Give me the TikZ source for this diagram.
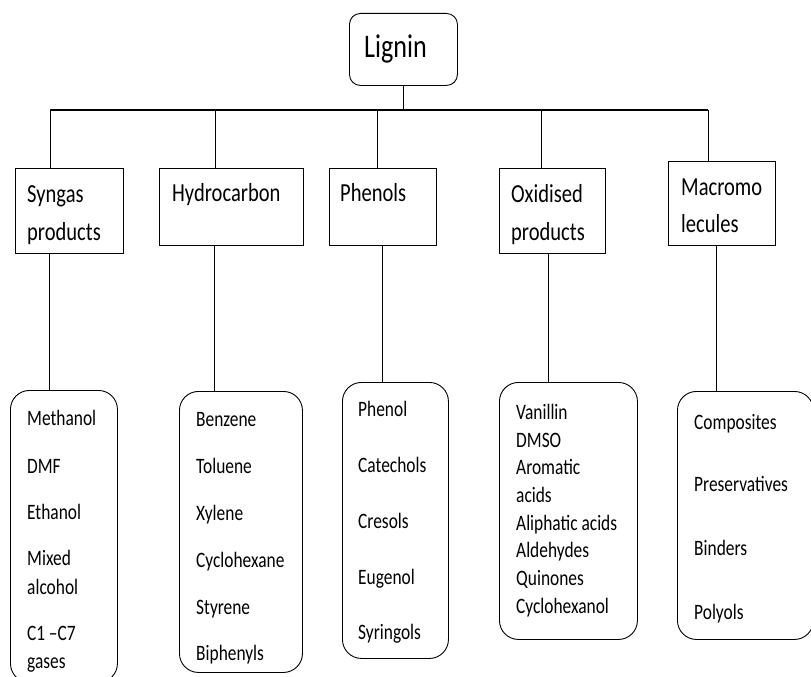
\documentclass[tikz,border=0pt]{standalone}
\usepackage{fontspec}
\setmainfont{Carlito}
\newfontfamily\narrowfont[FakeStretch=0.79]{Carlito}
\begin{document}
\begin{tikzpicture}[x=1pt,y=-1pt,
  conn/.style={line width=0.9pt},
  busline/.style={line width=2.2pt},
  rootbox/.style={draw, line width=0.9pt, rounded corners=11pt, inner sep=0pt, anchor=north west},
  catbox/.style={draw, line width=0.9pt, inner sep=0pt, anchor=north west},
  listbox/.style={draw, line width=0.9pt, rounded corners=19pt, inner sep=0pt, anchor=north west},
  roottext/.style={anchor=base west, inner sep=0pt, font=\narrowfont\fontsize{33}{36}\selectfont},
  cattext/.style={anchor=base west, inner sep=0pt, yshift=-8.4pt, font=\narrowfont\fontsize{26}{30}\selectfont},
  listtext/.style={anchor=base west, inner sep=0pt, yshift=-7.2pt, font=\narrowfont\fontsize{22}{26}\selectfont}
]
\useasboundingbox (0,0) rectangle (811,677);

% root
\node[rootbox, minimum width=108pt, minimum height=72pt] (lig) at (349,13) {};
\node[roottext] (ligt) at (364,58) {Lignin};

% category boxes
\node[catbox, minimum width=108pt, minimum height=85pt] (syn) at (15,168) {};
\node[catbox, minimum width=144pt, minimum height=77pt] (hyd) at (159,168) {};
\node[catbox, minimum width=107pt, minimum height=77pt] (phe) at (329,168) {};
\node[catbox, minimum width=106pt, minimum height=85pt] (oxi) at (499,168) {};
\node[catbox, minimum width=107pt, minimum height=84pt] (mac) at (668,161) {};

\node[cattext] (synt1) at (27,194) {Syngas};
\node[cattext] (synt2) at (27,232) {products};
\node[cattext] (hydt) at (172,193) {Hydrocarbon};
\node[cattext] (phet) at (340,193) {Phenols};
\node[cattext] (oxit1) at (511,194) {Oxidised};
\node[cattext] (oxit2) at (511,232) {products};
\node[cattext] (mact1) at (681,187) {Macromo};
\node[cattext] (mact2) at (681,224) {lecules};

% list boxes
\node[listbox, minimum width=107pt, minimum height=292pt] (synl) at (10,390) {};
\node[listbox, minimum width=123pt, minimum height=281pt] (hydl) at (179,391) {};
\node[listbox, minimum width=106pt, minimum height=276pt] (phel) at (342,382) {};
\node[listbox, minimum width=138pt, minimum height=257pt] (oxil) at (499,382) {};
\node[listbox, minimum width=136pt, minimum height=248pt] (macl) at (677,391) {};

\foreach \t/\y [count=\i] in {Methanol/418, DMF/466, Ethanol/512, Mixed/558, alcohol/587, C1\,–C7/633, gases/661}
  \node[listtext] (s\i) at (27,\y) {\t};
\foreach \t/\y [count=\i] in {Benzene/419, Toluene/466, Xylene/513, Cyclohexane/560, Styrene/607, Biphenyls/653}
  \node[listtext] (h\i) at (196,\y) {\t};
\foreach \t/\y [count=\i] in {Phenol/409, Catechols/465, Cresols/521, Eugenol/577, Syringols/632}
  \node[listtext] (p\i) at (358,\y) {\t};
\foreach \t/\y [count=\i] in {Vanillin/412, DMSO/440, Aromatic/467, acids/495, Aliphatic acids/523, Aldehydes/550, Quinones/578, Cyclohexanol/606}
  \node[listtext] (o\i) at (516,\y) {\t};
\foreach \t/\y [count=\i] in {Composites/422, Preservatives/484, Binders/548, Polyols/612}
  \node[listtext] (m\i) at (694,\y) {\t};

% bus
\coordinate (busL) at (50,110);
\coordinate (busR) at (708,110);
\draw[busline] (busL) -- (busR);
\coordinate (stem) at (403,110);
\draw[conn] (stem |- lig.south) -- (stem);

% drops to categories
\coordinate (d1) at (50,110);
\coordinate (d2) at (215,110);
\coordinate (d3) at (377,110);
\coordinate (d4) at (541,110);
\coordinate (d5) at (708,110);
\draw[conn] (d1) -- (d1 |- syn.north);
\draw[conn] (d2) -- (d2 |- hyd.north);
\draw[conn] (d3) -- (d3 |- phe.north);
\draw[conn] (d4) -- (d4 |- oxi.north);
\draw[conn] (d5) -- (d5 |- mac.north);

% lines to lists
\coordinate (e1) at (49,0);
\coordinate (e2) at (214,0);
\coordinate (e3) at (382,0);
\coordinate (e4) at (548,0);
\coordinate (e5) at (716,0);
\draw[conn] (e1 |- syn.south) -- (e1 |- synl.north);
\draw[conn] (e2 |- hyd.south) -- (e2 |- hydl.north);
\draw[conn] (e3 |- phe.south) -- (e3 |- phel.north);
\draw[conn] (e4 |- oxi.south) -- (e4 |- oxil.north);
\draw[conn] (e5 |- mac.south) -- (e5 |- macl.north);
\end{tikzpicture}
\end{document}
